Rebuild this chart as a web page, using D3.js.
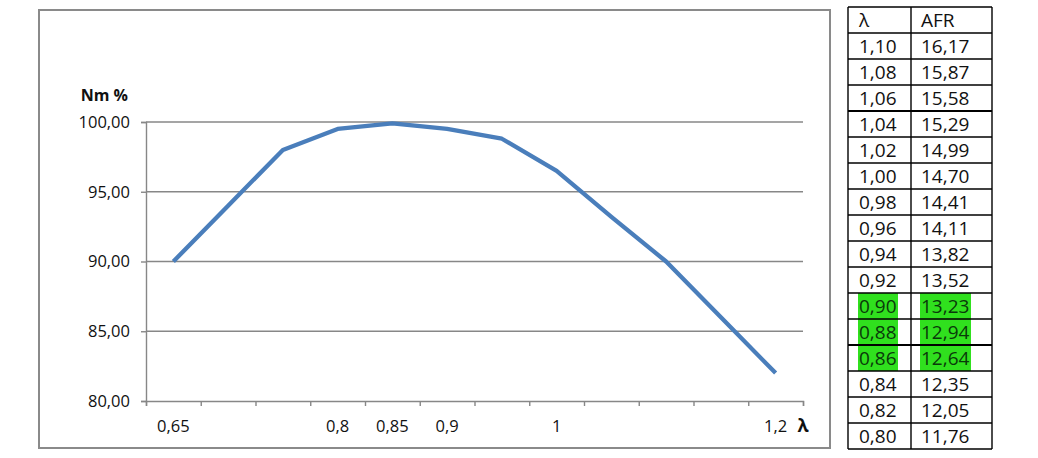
<!DOCTYPE html>
<html><head><meta charset="utf-8">
<script src="https://cdn.jsdelivr.net/npm/d3@7/dist/d3.min.js"></script>
<style>
html,body{margin:0;padding:0;background:#fff;}
svg{display:block;font-family:"Open Sans",sans-serif;}
</style></head>
<body><svg id="c" width="1038" height="458"></svg>
<script>
// ---- data ----
const categories = [0.65,0.70,0.75,0.80,0.85,0.90,0.95,1.00,1.05,1.10,1.15,1.20];
const categoryLabels = ["0,65","","","0,8","0,85","0,9","","1","","","","1,2"];
const nmValues = [90.0,94.0,98.0,99.5,99.9,99.5,98.8,96.5,93.2,90.0,86.0,82.0];
const yTicks = [80,85,90,95,100];
const yTickLabels = ["80,00","85,00","90,00","95,00","100,00"];
const tableHeader = ["λ","AFR"];
const tableLambda = ["1,10","1,08","1,06","1,04","1,02","1,00","0,98","0,96","0,94","0,92","0,90","0,88","0,86","0,84","0,82","0,80"];
const tableAFR = ["16,17","15,87","15,58","15,29","14,99","14,70","14,41","14,11","13,82","13,52","13,23","12,94","12,64","12,35","12,05","11,76"];
const highlighted = ["0,90","0,88","0,86"];

const svg = d3.select("#c");

// chart frame
svg.append("rect").attr("x",39).attr("y",10).attr("width",791).attr("height",438)
  .attr("fill","#fff").attr("stroke","#8a8a8a").attr("stroke-width",2);

const x = d3.scaleLinear().domain([0, categories.length]).range([146, 803]);
const y = d3.scaleLinear().domain([80,100]).range([401,122]);

// gridlines
svg.append("g").selectAll("line").data(yTicks.filter(d=>d>80)).join("line")
  .attr("x1",146).attr("x2",803).attr("y1",d=>y(d)).attr("y2",d=>y(d))
  .attr("stroke","#878787").attr("stroke-width",1.4);

// y axis
const yAxis = svg.append("g").attr("transform","translate(146,0)")
  .call(d3.axisLeft(y).tickValues(yTicks).tickSize(5).tickFormat((d,i)=>yTickLabels[i]));
yAxis.select(".domain").attr("stroke","#878787").attr("stroke-width",1.4);
yAxis.selectAll(".tick line").attr("stroke","#878787").attr("stroke-width",1.4);
yAxis.selectAll(".tick text").attr("x",-16).attr("font-family","Open Sans").attr("font-size",16.5).attr("fill","#111");

// x axis
const xAxis = svg.append("g").attr("transform","translate(0,401)")
  .call(d3.axisBottom(x).tickValues(d3.range(categories.length+1)).tickSize(5).tickFormat(""));
xAxis.select(".domain").attr("stroke","#878787").attr("stroke-width",1.4);
xAxis.selectAll(".tick line").attr("stroke","#878787").attr("stroke-width",1.4);

svg.append("g").selectAll("text").data(categoryLabels).join("text")
  .attr("x",(d,i)=>x(i+0.5)).attr("y",426).attr("dy","0.35em")
  .attr("text-anchor","middle").attr("font-size",16.5).attr("fill","#111").text(d=>d);

// axis titles
svg.append("text").attr("x",128).attr("y",95).attr("dy","0.35em").attr("text-anchor","end")
  .attr("font-size",16).attr("font-weight","bold").attr("fill","#111").text("Nm %");
svg.append("text").attr("x",803).attr("y",426).attr("dy","0.35em").attr("text-anchor","middle")
  .attr("font-size",18).attr("font-weight","bold").attr("fill","#111").text("λ");

// line
const line = d3.line().x((d,i)=>x(i+0.5)).y(d=>y(d));
svg.append("path").datum(nmValues).attr("d",line).attr("fill","none")
  .attr("stroke","#4a7ebb").attr("stroke-width",4.3).attr("stroke-linejoin","round");

// ---- table ----
const tX0 = 848, tX1 = 911, tX2 = 992, tY0 = 7, rowH = 26;
const rows = [tableHeader].concat(tableLambda.map((l,i)=>[l, tableAFR[i]]));
const tg = svg.append("g");
// highlights
rows.forEach((r,i)=>{
  if (highlighted.includes(r[0])) {
    tg.append("rect").attr("x",858).attr("y",tY0+i*rowH).attr("width",40).attr("height",rowH).attr("fill","#30e01e");
    tg.append("rect").attr("x",920).attr("y",tY0+i*rowH).attr("width",51).attr("height",rowH).attr("fill","#30e01e");
  }
});
// grid
d3.range(rows.length+1).forEach(i=>{
  tg.append("line").attr("x1",tX0).attr("x2",tX2).attr("y1",tY0+i*rowH).attr("y2",tY0+i*rowH)
    .attr("stroke","#000").attr("stroke-width",(i===4||i===13)?2.2:1.4);
});
[tX0,tX1,tX2].forEach(xx=>{
  tg.append("line").attr("x1",xx).attr("x2",xx).attr("y1",tY0).attr("y2",tY0+rows.length*rowH)
    .attr("stroke","#000").attr("stroke-width",1.4);
});
rows.forEach((r,i)=>{
  const hl = highlighted.includes(r[0]);
  tg.append("text").attr("x",tX0+11).attr("y",tY0+i*rowH+rowH/2).attr("dy","0.36em")
    .attr("font-size",19).attr("fill",hl?"#0a3a0a":"#111").text(r[0]);
  tg.append("text").attr("x",tX1+10).attr("y",tY0+i*rowH+rowH/2).attr("dy","0.36em")
    .attr("font-size",19).attr("fill",hl?"#0a3a0a":"#111").text(r[1]);
});
</script></body></html>
